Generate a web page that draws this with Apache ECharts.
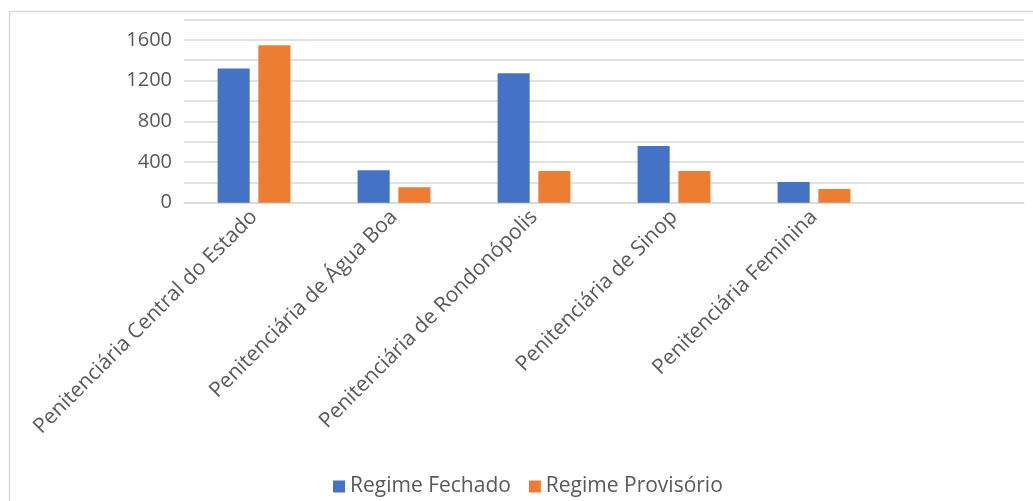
<!DOCTYPE html>
<html>
<head>
<meta charset="utf-8">
<script src="https://cdn.jsdelivr.net/npm/echarts@6/dist/echarts.min.js"></script>
<style>
html,body{margin:0;padding:0;background:#fff;}
#chart{width:1033px;height:501px;}
</style>
</head>
<body>
<div id="chart"></div>
<script>
const categories = ['Penitenciária Central do Estado', 'Penitenciária de Água Boa', 'Penitenciária de Rondonópolis', 'Penitenciária de Sinop', 'Penitenciária Feminina', ''];
const regimeFechado = [1318, 320, 1272, 556, 203, null];
const regimeProvisorio = [1546, 151, 311, 311, 134, null];
const seriesNames = ['Regime Fechado', 'Regime Provisório'];
const yTickLabels = [0, 400, 800, 1200, 1600];

const FONT = 'Open Sans';
const TXT = '#595959';
const chart = echarts.init(document.getElementById('chart'), null, {renderer: 'canvas'});
chart.setOption({
  animation: false,
  textStyle: {fontFamily: FONT},
  graphic: [{
    type: 'rect', left: 7, top: 9, z: -1,
    shape: {width: 1100, height: 600},
    style: {fill: 'none', stroke: '#d9d9d9', lineWidth: 1.5}
  }],
  grid: {left: 184, right: 9, top: 19.5, height: 183.2, containLabel: false},
  legend: {
    top: 471, left: 328,
    itemWidth: 12, itemHeight: 12, itemGap: 18, icon: 'rect',
    textStyle: {fontFamily: FONT, fontSize: 21, color: TXT},
    data: seriesNames
  },
  xAxis: {
    type: 'category', data: categories,
    axisLine: {show: true, lineStyle: {color: '#d9d9d9', width: 1.5}},
    axisTick: {show: false},
    axisLabel: {rotate: 45, interval: 0, fontSize: 21, color: TXT, fontFamily: FONT, margin: 11}
  },
  yAxis: {
    type: 'value', min: 0, max: 1800, interval: 200,
    axisLine: {show: false}, axisTick: {show: false},
    splitLine: {lineStyle: {color: '#d9d9d9', width: 1.5}},
    axisLabel: {
      fontSize: 20, color: TXT, fontFamily: FONT, margin: 12,
      formatter: v => yTickLabels.indexOf(v) >= 0 ? String(v) : ''
    }
  },
  series: [
    {name: seriesNames[0], type: 'bar', data: regimeFechado, itemStyle: {color: '#4472C4'}, barGap: '27%', barCategoryGap: '48%'},
    {name: seriesNames[1], type: 'bar', data: regimeProvisorio, itemStyle: {color: '#ED7D31'}, barGap: '27%', barCategoryGap: '48%'}
  ]
});
</script>
</body>
</html>
